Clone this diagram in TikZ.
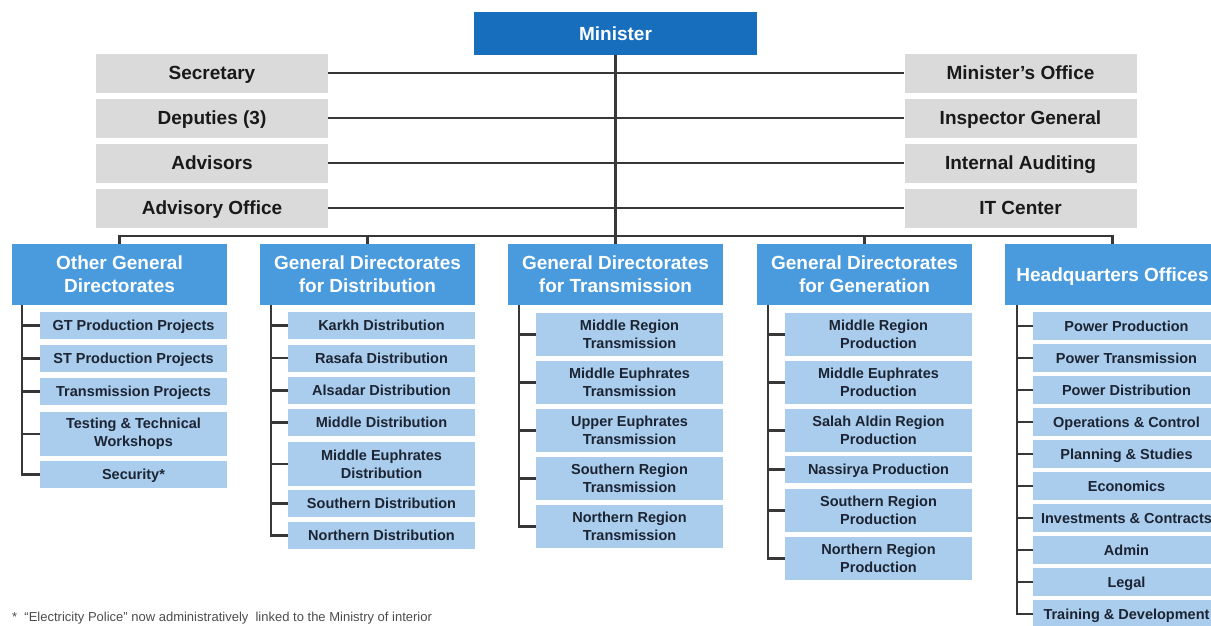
\documentclass[tikz,border=0pt]{standalone}
\usepackage{fontspec}
\setmainfont{Liberation Sans}
\usepackage{tikz}

\definecolor{minblue}{RGB}{22,110,188}
\definecolor{hdrblue}{RGB}{74,155,222}
\definecolor{subblue}{RGB}{170,205,238}
\definecolor{boxgray}{RGB}{218,218,218}
\definecolor{linegray}{RGB}{55,55,55}
\definecolor{subtext}{RGB}{28,36,50}

\tikzset{
	flat/.style={text height=13.6pt,text depth=0pt},
	flatsub/.style={text height=10.4pt,text depth=0pt},
	tall/.style={minimum height=43pt,text height=,text depth=}
}

\begin{document}
\begin{tikzpicture}[x=1pt,y=-1pt]
\useasboundingbox (0,0) rectangle (1211,625);

\begin{scope}[every node/.style={flat,fill=minblue,text=white,inner sep=0pt,minimum width=283pt,minimum height=43pt,font=\bfseries\fontsize{19}{22}\selectfont}]
	\node (min) at (615.5,33.5) {Minister};
\end{scope}

\begin{scope}[every node/.style={flat,fill=boxgray,text=black!90,inner sep=0pt,minimum width=232pt,minimum height=39pt,font=\bfseries\fontsize{19}{22}\selectfont}]
	\node (sec) at (212,73) {Secretary};
	\node (dep) at (212,118) {Deputies (3)};
	\node (adv) at (212,163) {Advisors};
	\node (ado) at (212,208) {Advisory Office};
	\node (mo) at (1020.5,73) {Minister’s Office};
	\node (ig) at (1020.5,118) {Inspector General};
	\node (ia) at (1020.5,163) {Internal Auditing};
	\node (it) at (1020.5,208) {IT Center};
\end{scope}

\begin{scope}[every node/.style={fill=hdrblue,text=white,align=center,inner sep=0pt,minimum width=215pt,minimum height=61pt,font=\bfseries\fontsize{19}{23}\selectfont}]
	\node (o) at (119.5,274.5) {Other General\\Directorates};
	\node (dis) at (367.5,274.5) {General Directorates\\for Distribution};
	\node (trn) at (615.5,274.5) {General Directorates\\for Transmission};
	\node (gen) at (864.5,274.5) {General Directorates\\for Generation};
	\node [flat] (hq) at (1112.5,274.5) {Headquarters Offices};
\end{scope}

\begin{scope}[every node/.style={flatsub,fill=subblue,text=subtext,align=center,inner sep=0pt,minimum width=187pt,minimum height=27pt,font=\bfseries\fontsize{14.5}{18}\selectfont}]
	\node (o1) at (133.5,325.5) {GT Production Projects};
	\node (o2) at (133.5,358.5) {ST Production Projects};
	\node (o3) at (133.5,391.5) {Transmission Projects};
	\node [tall,minimum height=44pt] (o4) at (133.5,434) {Testing \& Technical\\Workshops};
	\node (o5) at (133.5,474.5) {Security*};

	\node (d1) at (381.5,325.5) {Karkh Distribution};
	\node (d2) at (381.5,358) {Rasafa Distribution};
	\node (d3) at (381.5,390.5) {Alsadar Distribution};
	\node (d4) at (381.5,422.5) {Middle Distribution};
	\node [tall,minimum height=44pt] (d5) at (381.5,464) {Middle Euphrates\\Distribution};
	\node (d6) at (381.5,503.5) {Southern Distribution};
	\node (d7) at (381.5,535.5) {Northern Distribution};

	\node [tall] (t1) at (629.5,334.5) {Middle Region\\Transmission};
	\node [tall] (t2) at (629.5,382.5) {Middle Euphrates\\Transmission};
	\node [tall] (t3) at (629.5,430.5) {Upper Euphrates\\Transmission};
	\node [tall] (t4) at (629.5,478.5) {Southern Region\\Transmission};
	\node [tall] (t5) at (629.5,526.5) {Northern Region\\Transmission};

	\node [tall] (g1) at (878.5,334.5) {Middle Region\\Production};
	\node [tall] (g2) at (878.5,382.5) {Middle Euphrates\\Production};
	\node [tall] (g3) at (878.5,430.5) {Salah Aldin Region\\Production};
	\node (g4) at (878.5,469.5) {Nassirya Production};
	\node [tall] (g5) at (878.5,510.5) {Southern Region\\Production};
	\node [tall] (g6) at (878.5,558.5) {Northern Region\\Production};

	\node [minimum height=28pt] (h1) at (1126.5,326) {Power Production};
	\node [minimum height=28pt] (h2) at (1126.5,358) {Power Transmission};
	\node [minimum height=28pt] (h3) at (1126.5,390) {Power Distribution};
	\node [minimum height=28pt] (h4) at (1126.5,422) {Operations \& Control};
	\node [minimum height=28pt] (h5) at (1126.5,454) {Planning \& Studies};
	\node [minimum height=28pt] (h6) at (1126.5,486) {Economics};
	\node [minimum height=28pt] (h7) at (1126.5,518) {Investments \& Contracts};
	\node [minimum height=28pt] (h8) at (1126.5,550) {Admin};
	\node [minimum height=28pt] (h9) at (1126.5,582) {Legal};
	\node [minimum height=28pt] (h10) at (1126.5,614) {Training \& Development};
\end{scope}

\node [anchor=base west,inner sep=0pt,text=black!70,font=\fontsize{13}{15}\selectfont] (note) at (12,621.5) {*\ \ “Electricity Police” now administratively\ \ linked to the Ministry of interior};

\coordinate (bus) at (615.5,236);
\coordinate (oc) at ([xshift=10pt]o.south west);
\coordinate (dc) at ([xshift=11pt]dis.south west);
\coordinate (tc) at ([xshift=11pt]trn.south west);
\coordinate (gc) at ([xshift=11pt]gen.south west);
\coordinate (hc) at ([xshift=12pt]hq.south west);

\begin{scope}[every edge/.style={draw=linegray,line width=2.2pt},vh/.style={to path={|- (\tikztotarget)}}]
	\path (min) edge (trn);
	\path (sec) edge (mo);
	\path (dep) edge (ig);
	\path (adv) edge (ia);
	\path (ado) edge (it);

	\path (o) edge [vh] (bus);
	\path (dis) edge [vh] (bus);
	\path (gen) edge [vh] (bus);
	\path (hq) edge [vh] (bus);

	\path (oc) edge [vh] (o1) (oc) edge [vh] (o2) (oc) edge [vh] (o3) (oc) edge [vh] (o4) (oc) edge [vh] (o5);
	\path (dc) edge [vh] (d1) (dc) edge [vh] (d2) (dc) edge [vh] (d3) (dc) edge [vh] (d4) (dc) edge [vh] (d5) (dc) edge [vh] (d6) (dc) edge [vh] (d7);
	\path (tc) edge [vh] (t1) (tc) edge [vh] (t2) (tc) edge [vh] (t3) (tc) edge [vh] (t4) (tc) edge [vh] (t5);
	\path (gc) edge [vh] (g1) (gc) edge [vh] (g2) (gc) edge [vh] (g3) (gc) edge [vh] (g4) (gc) edge [vh] (g5) (gc) edge [vh] (g6);
	\path (hc) edge [vh] (h1) (hc) edge [vh] (h2) (hc) edge [vh] (h3) (hc) edge [vh] (h4) (hc) edge [vh] (h5);
	\path (hc) edge [vh] (h6) (hc) edge [vh] (h7) (hc) edge [vh] (h8) (hc) edge [vh] (h9) (hc) edge [vh] (h10);
\end{scope}
\end{tikzpicture}
\end{document}
